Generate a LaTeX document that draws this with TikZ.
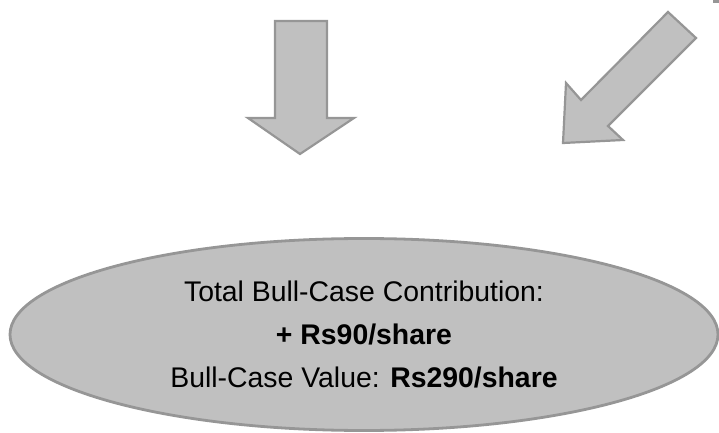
\documentclass[tikz,border=0pt]{standalone}
\usepackage{fontspec}
\setmainfont{Liberation Sans}
\usepackage{tikz}
\usetikzlibrary{shapes.geometric,positioning}
\definecolor{bullfill}{RGB}{192,192,192}
\definecolor{bullline}{RGB}{150,150,150}
\tikzset{
	blockarrow/.style={
		fill=bullfill,
		draw=bullline, line width=1.1pt,
		line join=miter},
	bullcase/.style={
		ellipse,
		fill=bullfill,
		draw=bullline, line width=1.4pt,
		minimum width=354pt,
		minimum height=96pt,
		inner sep=0pt,
		align=center,
		font=\fontsize{14.2}{21.4}\selectfont},
}

\begin{document}
\begin{tikzpicture}
[x=0.5pt, y=-0.5pt]
\useasboundingbox (0,0) rectangle (719,433);
% block arrows
\draw[blockarrow] (275,21) -- (327,21) -- (327,118) -- (354,118) -- (300,154)
	-- (248,118) -- (275,118) -- cycle;
\draw[blockarrow] (668,12) -- (696,38) -- (608,126) -- (623,140) -- (563,143)
	-- (566,83) -- (581,100) -- cycle;
\fill[bullline] (713,0) rectangle (719,3);
% result
\node[bullcase] (total) at (364,334.5)
	{Total Bull-Case Contribution:\\ \textbf{+ Rs90/share}\\
	Bull-Case Value: \textbf{Rs290/share}};
\end{tikzpicture}
\end{document}
